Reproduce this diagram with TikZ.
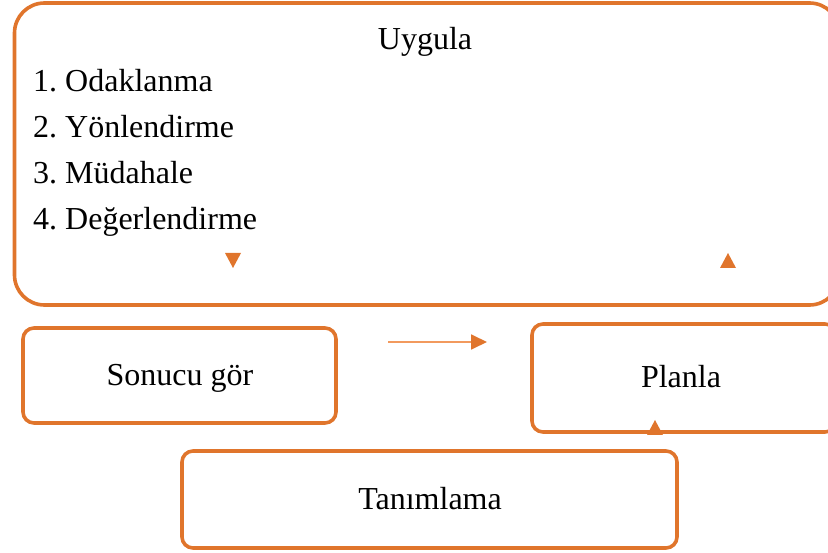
\documentclass[tikz,border=0pt]{standalone}
\usepackage{fontspec}
\setmainfont{Liberation Serif}
\usetikzlibrary{arrows.meta}
\definecolor{orng}{HTML}{E0752C}
\definecolor{lightorng}{HTML}{F29A5E}
\tikzset{
  box/.style={draw=orng, line width=3.6pt, rounded corners=#1, inner sep=0pt},
  box/.default=11pt,
  lbl/.style={inner sep=0pt, font=\fontsize{32}{38}\selectfont},
  tri/.style={fill=orng, draw=none},
  conn/.style={draw=lightorng, line width=1.8pt, -{Triangle[length=16pt,width=15pt,fill=orng,color=orng]}}
}
\begin{document}
\frenchspacing
\begin{tikzpicture}[x=1pt,y=-1pt]
\useasboundingbox (0,0) rectangle (828,553);
\clip (0,0) rectangle (828,553);
% boxes
\node[box=30pt, minimum width=825pt, minimum height=302pt] (uygula) at (427,154) {};
\node[box, minimum width=313pt, minimum height=95pt] (sonuc) at (179.5,375.5) {};
\node[box, minimum width=304pt, minimum height=108pt] (planla) at (684,378) {};
\node[box, minimum width=495pt, minimum height=97pt] (tanim) at (429.5,499.5) {};
% texts
\node[lbl, anchor=base] (t0) at (425,50) {Uygula};
\node[lbl, anchor=base west] (t1) at (33,92) {1. Odaklanma};
\node[lbl, anchor=base west] (t2) at (33,138) {2. Yönlendirme};
\node[lbl, anchor=base west] (t3) at (33,184) {3. Müdahale};
\node[lbl, anchor=base west] (t4) at (33,230) {4. Değerlendirme};
\node[lbl, anchor=base] (ts) at (180,386) {Sonucu gör};
\node[lbl, anchor=base] (tp) at (681,388) {Planla};
\node[lbl, anchor=base] (tt) at (430,509) {Tanımlama};
% arrow heads
\coordinate (a1) at (233,268);
\fill[tri] (a1) -- ++(-8,-15) -- ++(16,0) -- cycle;
\coordinate (a2) at (728,253);
\fill[tri] (a2) -- ++(-8,15) -- ++(16,0) -- cycle;
\coordinate (a3) at (655,420);
\fill[tri] (a3) -- ++(-8,15) -- ++(16,0) -- cycle;
% horizontal connector
\coordinate (h1) at (388,342);
\coordinate (h2) at (487,342);
\draw[conn] (h1) -- (h2);
\end{tikzpicture}
\end{document}
